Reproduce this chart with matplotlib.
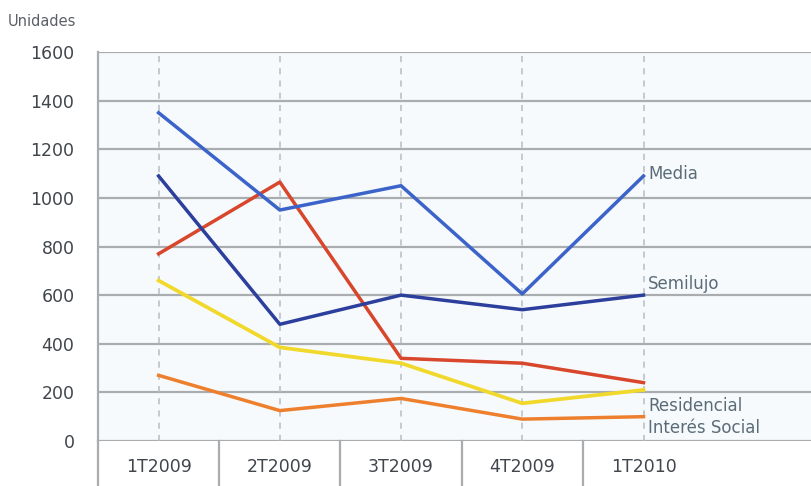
import matplotlib.pyplot as plt

# trimestres y unidades por segmento
trimestres = ['1T2009', '2T2009', '3T2009', '4T2009', '1T2010']
media = [1350, 950, 1050, 605, 1090]
semilujo = [1090, 480, 600, 540, 600]
lujo = [770, 1065, 340, 320, 240]
residencial = [660, 385, 320, 155, 210]
interes_social = [270, 125, 175, 90, 100]
yticks = [0, 200, 400, 600, 800, 1000, 1200, 1400, 1600]

x = list(range(len(trimestres)))

fig = plt.figure(figsize=(8.12, 4.86), dpi=100)
ax = fig.add_axes([98/812, 1 - 441/486, 1 - 98/812, (441 - 52)/486])
ax.set_facecolor('#f6fafc')

ax.set_xlim(-0.5, 5.39)
ax.set_ylim(0, 1600)

# rejilla horizontal y guias punteadas por trimestre
for v in yticks:
    ax.axhline(v, color='#a9adb0', lw=1.6, zorder=1)
for xi in x:
    ax.plot([xi, xi], [0, 1600], color='#b5bcc2', lw=1.1, ls=(0, (4, 4)), zorder=1)

ax.plot(x, interes_social, color='#ee7f2d', lw=2.5, zorder=3)
ax.plot(x, residencial, color='#f1d92c', lw=2.7, zorder=3)
ax.plot(x, lujo, color='#d8462c', lw=2.5, zorder=3)
ax.plot(x, semilujo, color='#2c3f9c', lw=2.5, zorder=3)
ax.plot(x, media, color='#3b63c9', lw=2.5, zorder=3)

lab = dict(color='#5b6c78', fontsize=12, va='center', ha='left')
ax.text(4.04, 1100, 'Media', **lab)
ax.text(4.04, 645, 'Semilujo', **lab)
ax.text(4.04, 145, 'Residencial', **lab)
ax.text(4.04, 52, 'Interés Social', **lab)

# cajas de etiquetas bajo el eje
for b in [-0.5, 0.5, 1.5, 2.5, 3.5]:
    ax.plot([b, b], [0, -0.12], color='#a9adb0', lw=1.6,
            transform=ax.get_xaxis_transform(), clip_on=False)
ax.plot([-0.5, -0.5], [0, 1], color='#a9adb0', lw=1.6,
        transform=ax.get_xaxis_transform(), clip_on=False)

for s in ax.spines.values():
    s.set_visible(False)

ax.set_xticks(x)
ax.set_xticklabels(trimestres, fontsize=12.5, color='#41464c')
ax.set_yticks(yticks)
ax.set_yticklabels([str(v) for v in yticks], fontsize=12.5, color='#41464c')
ax.tick_params(axis='x', length=0, pad=12)
ax.tick_params(axis='y', length=0, pad=17)

fig.text(8/812, 1 - 22/486, 'Unidades', fontsize=10.5, color='#5b6066', va='center')

fig.savefig('out.png', dpi=100)
